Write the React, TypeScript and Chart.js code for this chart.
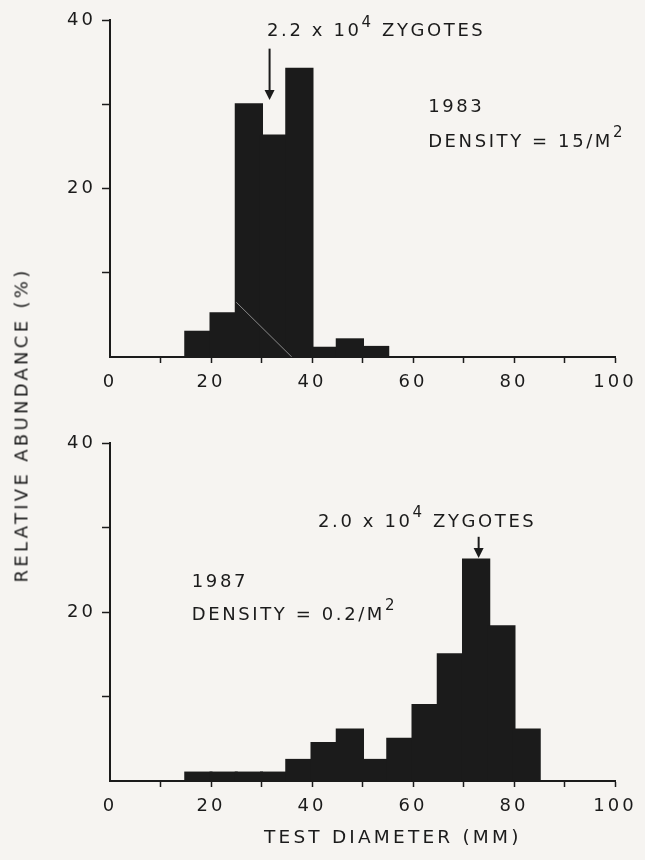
import React, { useEffect, useRef } from 'react';
import { Chart, registerables } from 'chart.js';

Chart.register(...registerables);

// ---- data ----
const binCenters1983 = [17.5, 22.5, 27.5, 32.5, 37.5, 42.5, 47.5, 52.5];
const abundance1983 = [3.0, 5.2, 30.0, 26.3, 34.2, 1.1, 2.1, 1.2];
const binCenters1987 = [17.5, 22.5, 27.5, 32.5, 37.5, 42.5, 47.5, 52.5, 57.5, 62.5, 67.5, 72.5, 77.5, 82.5];
const abundance1987 = [1.0, 1.0, 1.0, 1.0, 2.5, 4.5, 6.1, 2.5, 5.0, 9.0, 15.0, 26.2, 18.3, 6.1];
const streakX1983 = [25, 36];
const streakY1983 = [6.5, 0];
const xTickLabels = [0, 20, 40, 60, 80, 100];
const yTickLabels = [20, 40];

const FONT = '"DejaVu Sans", sans-serif';
const INK = '#1b1b1b';
const PAPER = '#f6f4f1';

interface Note { x: number; y: number; text: string; sup?: string; after?: string; }
interface Arrow { x: number; y0: number; y1: number; }

const notes1983: Note[] = [
  { x: 31.1, y: 38.6, text: '2.2 x 10', sup: '4', after: ' ZYGOTES' },
  { x: 63.0, y: 29.6, text: '1983' },
  { x: 63.0, y: 25.5, text: 'DENSITY = 15/M', sup: '2' },
];
const arrow1983: Arrow = { x: 31.6, y0: 36.6, y1: 30.5 };

const notes1987: Note[] = [
  { x: 41.2, y: 30.65, text: '2.0 x 10', sup: '4', after: ' ZYGOTES' },
  { x: 16.2, y: 23.5, text: '1987' },
  { x: 16.2, y: 19.6, text: 'DENSITY = 0.2/M', sup: '2' },
];
const arrow1987: Arrow = { x: 73.0, y0: 28.9, y1: 26.4 };

interface PanelProps {
  centers: number[];
  values: number[];
  streakX?: number[];
  streakY?: number[];
  notes: Note[];
  arrow: Arrow;
  top: number;
  height: number;
  padTop: number;
  xHeight: number;
  xTitle?: string;
  xTitleCenter?: number;
}

function Panel(props: PanelProps) {
  const ref = useRef<HTMLCanvasElement>(null);
  useEffect(() => {
    const canvas = ref.current;
    if (!canvas) return;
    const { centers, values, streakX, streakY, notes, arrow, padTop, xHeight, xTitle, xTitleCenter } = props;

    const notePlugin = {
      id: 'notes',
      beforeDraw(chart: any) {
        chart.ctx.letterSpacing = '3px';
      },
      afterDatasetsDraw(chart: any) {
        const ctx = chart.ctx as CanvasRenderingContext2D;
        const xs = chart.scales.x;
        const ys = chart.scales.y;
        ctx.save();
        ctx.fillStyle = INK;
        ctx.strokeStyle = INK;
        ctx.textBaseline = 'middle';
        ctx.textAlign = 'left';
        (ctx as any).letterSpacing = '2.6px';
        for (const n of notes) {
          let px = xs.getPixelForValue(n.x);
          const py = ys.getPixelForValue(n.y);
          ctx.font = `18px ${FONT}`;
          ctx.fillText(n.text, px, py);
          px += ctx.measureText(n.text).width;
          if (n.sup) {
            ctx.font = `15px ${FONT}`;
            ctx.fillText(n.sup, px, py - 9);
            px += ctx.measureText(n.sup).width;
          }
          if (n.after) {
            ctx.font = `18px ${FONT}`;
            ctx.fillText(n.after, px, py);
          }
        }
        const ax = xs.getPixelForValue(arrow.x);
        const ay0 = ys.getPixelForValue(arrow.y0);
        const ay1 = ys.getPixelForValue(arrow.y1);
        ctx.lineWidth = 2;
        ctx.beginPath();
        ctx.moveTo(ax, ay0);
        ctx.lineTo(ax, ay1 - 8);
        ctx.stroke();
        ctx.beginPath();
        ctx.moveTo(ax - 5, ay1 - 10);
        ctx.lineTo(ax + 5, ay1 - 10);
        ctx.lineTo(ax, ay1);
        ctx.closePath();
        ctx.fill();

        if (xTitle && xTitleCenter !== undefined) {
          ctx.font = `18.5px ${FONT}`;
          (ctx as any).letterSpacing = '3.2px';
          ctx.textAlign = 'center';
          ctx.textBaseline = 'middle';
          ctx.fillText(xTitle, xs.getPixelForValue(xTitleCenter), chart.height - 22);
        }
        ctx.restore();
      },
    };

    const datasets: any[] = [
      {
        type: 'bar',
        data: centers.map((c, i) => ({ x: c, y: values[i] })),
        backgroundColor: INK,
        borderWidth: 0,
        inflateAmount: 1,
        barPercentage: 1.04,
        categoryPercentage: 1,
        order: 1,
      },
    ];
    if (streakX && streakY) {
      datasets.push({
        type: 'line',
        data: streakX.map((v, i) => ({ x: v, y: streakY[i] })),
        borderColor: '#8a8a8a',
        borderWidth: 1,
        pointRadius: 0,
        order: 0,
      });
    }

    const tickFont = { family: FONT, size: 18 };
    const chart = new Chart(canvas, {
      type: 'bar',
      data: { datasets },
      plugins: [notePlugin],
      options: {
        animation: false,
        responsive: false,
        layout: { padding: { top: padTop, right: 30, left: 0, bottom: 0 } },
        plugins: { legend: { display: false }, tooltip: { enabled: false } },
        scales: {
          x: {
            type: 'linear',
            min: 0,
            max: 100,
            offset: false,
            grid: {
              offset: false,
              drawOnChartArea: false,
              drawTicks: true,
              tickLength: 6,
              tickWidth: 1.5,
              tickColor: (c: any) => (c.tick && c.tick.value === 0 ? 'rgba(0,0,0,0)' : INK),
            },
            border: { display: true, color: INK, width: 2 },
            ticks: {
              stepSize: 10,
              autoSkip: false,
              maxRotation: 0,
              padding: 9,
              color: INK,
              font: tickFont,
              callback: (v: any) => (xTickLabels.includes(Number(v)) ? String(v) : ''),
            },
            title: { display: false },
            afterFit: (s: any) => {
              s.height = xHeight;
            },
          } as any,
          y: {
            type: 'linear',
            min: 0,
            max: 40,
            grid: {
              drawOnChartArea: false,
              drawTicks: true,
              tickLength: 8,
              tickWidth: 1.5,
              tickColor: (c: any) => (c.tick && c.tick.value === 0 ? 'rgba(0,0,0,0)' : INK),
            },
            border: { display: true, color: INK, width: 2 },
            ticks: {
              stepSize: 10,
              padding: 6,
              color: INK,
              font: tickFont,
              callback: (v: any) => (yTickLabels.includes(Number(v)) ? String(v) : ''),
            },
            afterFit: (s: any) => {
              s.width = 110;
            },
          } as any,
        },
      } as any,
    });
    return () => chart.destroy();
  }, []);

  return (
    <canvas
      ref={ref}
      width={645}
      height={props.height}
      style={{ position: 'absolute', left: 0, top: props.top, width: 645, height: props.height }}
    />
  );
}

export default function App() {
  return (
    <div style={{ position: 'absolute', left: 0, top: 0, width: 645, height: 860, background: PAPER, overflow: 'hidden' }}>
      <Panel
        centers={binCenters1983}
        values={abundance1983}
        streakX={streakX1983}
        streakY={streakY1983}
        notes={notes1983}
        arrow={arrow1983}
        top={0}
        height={400}
        padTop={20}
        xHeight={43}
      />
      <Panel
        centers={binCenters1987}
        values={abundance1987}
        notes={notes1987}
        arrow={arrow1987}
        top={400}
        height={460}
        padTop={43}
        xHeight={79}
        xTitle="TEST DIAMETER (MM)"
        xTitleCenter={56}
      />
      <div
        style={{
          position: 'absolute',
          left: 21,
          top: 425,
          transform: 'translate(-50%, -50%) rotate(-90deg)',
          whiteSpace: 'nowrap',
          fontFamily: FONT,
          fontSize: 18,
          letterSpacing: '3.3px',
          color: INK,
        }}
      >
        RELATIVE ABUNDANCE (%)
      </div>
    </div>
  );
}
